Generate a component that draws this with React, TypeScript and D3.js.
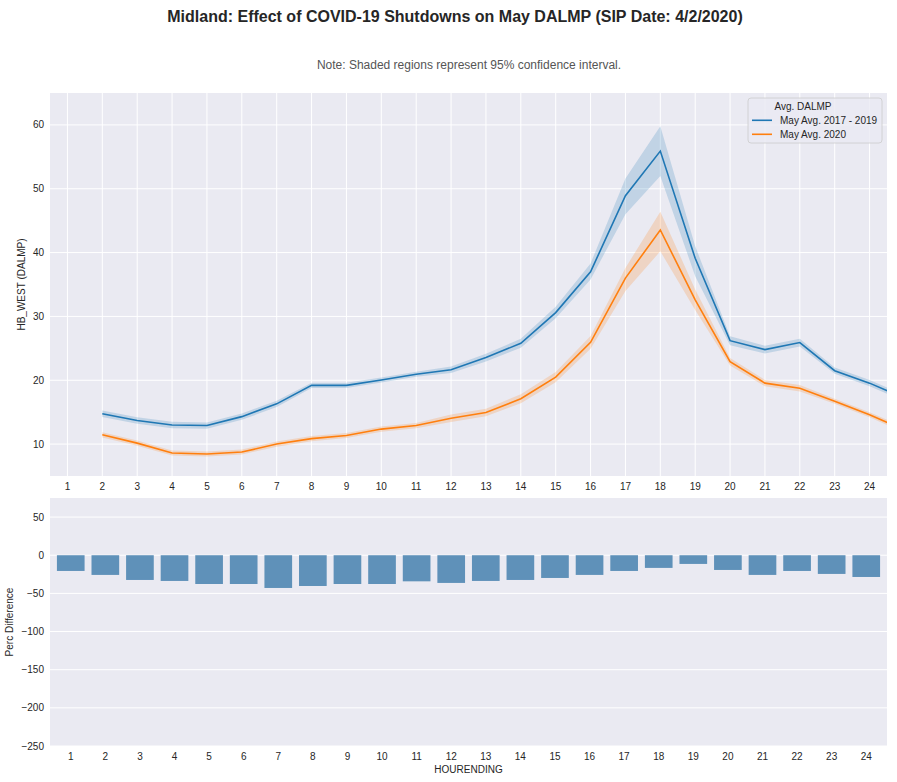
import { useMemo } from 'react';
import * as d3 from 'd3';

// hour ending categories
const hours = [1, 2, 3, 4, 5, 6, 7, 8, 9, 10, 11, 12, 13, 14, 15, 16, 17, 18, 19, 20, 21, 22, 23, 24];

// May avg 2017-2019 (drawn one slot to the right of its hour, as in the source)
const hist = [14.75, 13.7, 13.0, 12.9, 14.3, 16.3, 19.2, 19.2, 20.05, 20.95, 21.65, 23.55, 25.8, 30.6, 37.0, 48.9, 55.9, 39.1, 26.2, 24.8, 25.9, 21.5, 19.55, 17.2];
const histLow = [14.25, 13.2, 12.5, 12.4, 13.8, 15.8, 18.8, 18.8, 19.65, 20.55, 21.15, 22.95, 25.1, 29.7, 35.8, 46.0, 52.0, 36.3, 25.5, 24.2, 25.3, 21.0, 19.05, 16.7];
const histHigh = [15.25, 14.2, 13.5, 13.4, 14.8, 16.8, 19.6, 19.6, 20.45, 21.35, 22.15, 24.15, 26.5, 31.5, 38.3, 51.6, 59.8, 41.0, 26.9, 25.4, 26.5, 22.0, 20.05, 17.7];

// May avg 2020
const cur = [11.45, 10.15, 8.6, 8.45, 8.75, 10.0, 10.85, 11.35, 12.35, 12.9, 14.05, 14.95, 17.1, 20.5, 25.95, 36.0, 43.55, 32.6, 22.9, 19.55, 18.75, 16.7, 14.6, 12.2];
const curLow = [11.05, 9.75, 8.2, 8.05, 8.35, 9.6, 10.45, 10.95, 11.95, 12.5, 13.45, 14.35, 16.4, 19.7, 24.95, 34.0, 40.2, 31.0, 22.3, 19.05, 18.25, 16.3, 14.2, 11.8];
const curHigh = [11.85, 10.55, 9.0, 8.85, 9.15, 10.4, 11.25, 11.75, 12.75, 13.3, 14.65, 15.55, 17.8, 21.3, 26.95, 37.6, 46.4, 34.2, 23.5, 20.05, 19.25, 17.1, 15.0, 12.6];

// percent difference per hour
const percDiff = [-20.6, -25.8, -32.4, -33.7, -37.7, -37.7, -42.9, -40.3, -37.7, -37.7, -34.2, -36.3, -33.7, -32.4, -29.8, -25.8, -20.6, -16.6, -11.4, -19.3, -25.8, -20.6, -24.5, -28.5];

const topTicks = [10, 20, 30, 40, 50, 60];
const bottomTicks = [50, 0, -50, -100, -150, -200, -250];

const seriesNames = ['May Avg. 2017 - 2019', 'May Avg. 2020'];
const colors = ['#1f77b4', '#ff7f0e'];

const W = 897;
const H = 782;
const left = 50;
const right = 887;
const top1 = 93;
const bottom1 = 476;
const top2 = 498;
const bottom2 = 746;
const font = '"Liberation Sans", Arial, sans-serif';
const txt = '#262626';
const fmt = (v: number) => (v < 0 ? `\u2212${Math.abs(v)}` : `${v}`);

export default function App() {
  const x = useMemo(() => d3.scaleLinear().domain([0.5, 24.5]).range([left, right]), []);
  const xb = useMemo(
    () => d3.scaleBand<number>().domain(hours).range([left, right]).padding(0.2),
    []
  );
  const y1 = useMemo(() => d3.scaleLinear().domain([5, 65]).range([bottom1, top1]), []);
  const y2 = useMemo(() => d3.scaleLinear().domain([-250, 75]).range([bottom2, top2]), []);

  const series = [
    { mid: hist, lo: histLow, hi: histHigh },
    { mid: cur, lo: curLow, hi: curHigh },
  ];

  const line = d3
    .line<number>()
    .x((_, i) => x(hours[i] + 1))
    .y((d) => y1(d));

  const band = (lo: number[], hi: number[]) =>
    d3
      .area<number>()
      .x((_, i) => x(hours[i] + 1))
      .y0((_, i) => y1(lo[i]))
      .y1((_, i) => y1(hi[i]))(lo);

  return (
    <div style={{ position: 'absolute', left: 0, top: 0 }}>
      <svg width={W} height={H} style={{ display: 'block', fontFamily: font }}>
        <rect width={W} height={H} fill="#fff" />
        <defs>
          <clipPath id="clipTop">
            <rect x={left} y={top1} width={right - left} height={bottom1 - top1} />
          </clipPath>
        </defs>

        <text x={455} y={22} textAnchor="middle" fontSize={16} fontWeight="bold" fill={txt}>
          Midland: Effect of COVID-19 Shutdowns on May DALMP (SIP Date: 4/2/2020)
        </text>
        <text x={469} y={69} textAnchor="middle" fontSize={12} fill="#555">
          Note: Shaded regions represent 95% confidence interval.
        </text>

        {/* top panel */}
        <rect x={left} y={top1} width={right - left} height={bottom1 - top1} fill="#eaeaf2" />
        {topTicks.map((t) => (
          <line key={t} x1={left} x2={right} y1={y1(t)} y2={y1(t)} stroke="#fff" strokeWidth={1} />
        ))}
        {hours.map((h) => (
          <line key={h} x1={x(h)} x2={x(h)} y1={top1} y2={bottom1} stroke="#fff" strokeWidth={1} />
        ))}
        <g clipPath="url(#clipTop)">
          {series.map((s, i) => (
            <path key={`b${i}`} d={band(s.lo, s.hi) ?? ''} fill={colors[i]} opacity={0.2} />
          ))}
          {series.map((s, i) => (
            <path key={`l${i}`} d={line(s.mid) ?? ''} fill="none" stroke={colors[i]} strokeWidth={1.6} />
          ))}
        </g>
        {topTicks.map((t) => (
          <text key={t} x={44} y={y1(t)} dy="0.35em" textAnchor="end" fontSize={10} fill={txt}>
            {t}
          </text>
        ))}
        {hours.map((h) => (
          <text key={h} x={x(h)} y={bottom1 + 14} textAnchor="middle" fontSize={10} fill={txt}>
            {h}
          </text>
        ))}
        <text
          transform={`translate(25,${(top1 + bottom1) / 2}) rotate(-90)`}
          textAnchor="middle"
          fontSize={10}
          fill={txt}
        >
          HB_WEST (DALMP)
        </text>

        {/* legend */}
        <g transform="translate(748,98)">
          <rect width={134} height={45} rx={3} fill="#eaeaf2" fillOpacity={0.8} stroke="#cccccc" strokeWidth={0.8} />
          <text x={55} y={12} textAnchor="middle" fontSize={10} fill={txt}>
            Avg. DALMP
          </text>
          {seriesNames.map((n, i) => (
            <g key={n} transform={`translate(0,${22.3 + i * 14})`}>
              <line x1={4} x2={24} y1={0} y2={0} stroke={colors[i]} strokeWidth={1.6} />
              <text x={32} y={0} dy="0.35em" fontSize={10} fill={txt}>
                {n}
              </text>
            </g>
          ))}
        </g>

        {/* bottom panel */}
        <rect x={left} y={top2} width={right - left} height={bottom2 - top2} fill="#eaeaf2" />
        {bottomTicks.map((t) => (
          <line key={t} x1={left} x2={right} y1={y2(t)} y2={y2(t)} stroke="#fff" strokeWidth={1} />
        ))}
        {percDiff.map((v, i) => (
          <rect
            key={hours[i]}
            x={xb(hours[i])}
            width={xb.bandwidth()}
            y={y2(Math.max(0, v))}
            height={Math.abs(y2(v) - y2(0))}
            fill="#5f91b9"
          />
        ))}
        {bottomTicks.map((t) => (
          <text key={t} x={44} y={y2(t)} dy="0.35em" textAnchor="end" fontSize={10} fill={txt}>
            {fmt(t)}
          </text>
        ))}
        {hours.map((h) => (
          <text key={h} x={(xb(h) ?? 0) + xb.bandwidth() / 2} y={bottom2 + 14} textAnchor="middle" fontSize={10} fill={txt}>
            {h}
          </text>
        ))}
        <text
          transform={`translate(13,${(top2 + bottom2) / 2}) rotate(-90)`}
          textAnchor="middle"
          fontSize={10}
          fill={txt}
        >
          Perc Difference
        </text>
        <text x={(left + right) / 2} y={773} textAnchor="middle" fontSize={10} fill={txt}>
          HOURENDING
        </text>
      </svg>
    </div>
  );
}
